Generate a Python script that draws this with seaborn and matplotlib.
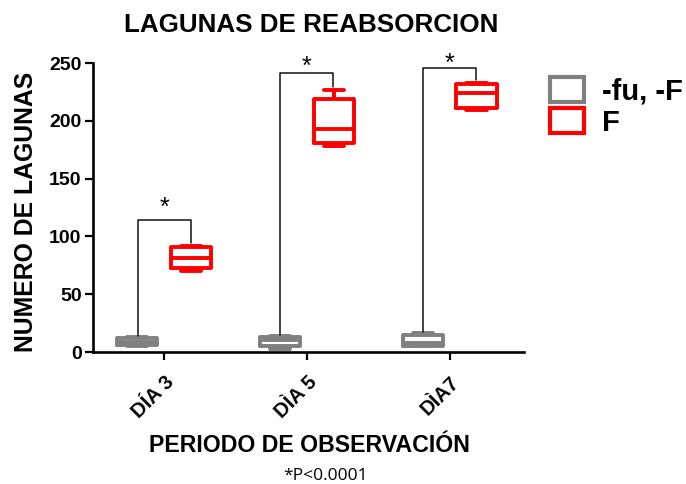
import matplotlib
matplotlib.use("Agg")
import matplotlib.pyplot as plt
from matplotlib.patches import Patch
import seaborn as sns
import pandas as pd

# Observation days (x categories) and treatment groups (hue)
dias = ["DÍA 3", "DÌA 5", "DÌA7"]
grupos = ["-fu, -F", "F"]

# Number of resorption lacunae per day, one list per group
control_dia3 = [5.5, 6.0, 9.0, 12.5, 13.0]
control_dia5 = [2.5, 5.0, 10.0, 13.3, 14.0]
control_dia7 = [5.0, 5.6, 8.2, 14.8, 16.5]
f_dia3 = [70.5, 72.5, 81.5, 91.0, 91.5]
f_dia5 = [178.0, 181.0, 192.5, 218.5, 226.5]
f_dia7 = [209.5, 211.0, 224.0, 231.5, 232.5]

# Heights of the significance brackets and of their asterisks
bracket_top = [114, 241, 246]
star_y = [131, 253.5, 256]
y_ticks = [0, 50, 100, 150, 200, 250]

gris = "#808080"
rojo = "#ff0000"

filas = []
for dia, ctrl, trat in zip(dias, [control_dia3, control_dia5, control_dia7],
                           [f_dia3, f_dia5, f_dia7]):
    filas += [(dia, grupos[0], v) for v in ctrl]
    filas += [(dia, grupos[1], v) for v in trat]
df = pd.DataFrame(filas, columns=["dia", "grupo", "lagunas"])

sns.set_style("ticks")
plt.rcParams["font.family"] = ["Liberation Sans", "DejaVu Sans"]
plt.rcParams.update({"text.color": "black", "axes.labelcolor": "black",
                     "xtick.color": "black", "ytick.color": "black"})

fig = plt.figure(figsize=(6.86, 4.84), dpi=100)
ax = fig.add_axes([0.1351, 0.2727, 0.6287, 0.5971])

sns.boxplot(data=df, x="dia", y="lagunas", hue="grupo", order=dias,
            hue_order=grupos, palette={grupos[0]: gris, grupos[1]: rojo},
            fill=False, width=0.75, gap=0.25, linewidth=2.8, whis=(0, 100),
            legend=False, ax=ax)

ax.set_xlim(-0.5, 2.52)
ax.set_ylim(0, 250)
ax.set_yticks(y_ticks)
ax.set_xlabel("")
ax.set_ylabel("")
sns.despine(ax=ax)
for s in ("left", "bottom"):
    ax.spines[s].set_linewidth(1.9)
    ax.spines[s].set_color("black")
ax.tick_params(axis="both", width=1.6, length=6, color="black", pad=2)
ax.tick_params(axis="x", pad=9)
for lab in ax.get_yticklabels():
    lab.set_fontsize(14)
    lab.set_fontweight("bold")
ax.set_xticks(range(len(dias)))
ax.set_xticklabels(dias, rotation=45, ha="right", rotation_mode="anchor",
                   fontsize=14.5, fontweight="bold")

# Significance brackets between the two groups of each day
off = 0.185
controles = [control_dia3, control_dia5, control_dia7]
tratados = [f_dia3, f_dia5, f_dia7]
for i, (ctrl, trat, top, sy) in enumerate(zip(controles, tratados,
                                               bracket_top, star_y)):
    ax.plot([i - off, i - off, i + off, i + off],
            [max(ctrl) + 1, top, top, max(trat) + 3],
            color="#111111", lw=1.1, clip_on=False)
    ax.text(i, sy - 12.5, "*", ha="center", va="baseline", fontsize=18,
            color="black", clip_on=False)

fig.text(0.453, 1 - 32 / 484, "LAGUNAS DE REABSORCION", ha="center",
         va="baseline", fontsize=18.7, fontweight="bold")
fig.text(26 / 686, 1 - 212 / 484, "NUMERO DE LAGUNAS", rotation=90,
         ha="center", va="center", fontsize=17.8, fontweight="bold")
fig.text(0.451, (484 - 452) / 484, "PERIODO DE OBSERVACIÓN", ha="center",
         va="baseline", fontsize=16.7, fontweight="bold")
fig.text(0.474, (484 - 480) / 484, "*P<0.0001", ha="center", va="baseline",
         fontsize=12.5, family=["Open Sans", "DejaVu Sans"])

handles = [Patch(facecolor="none", edgecolor=gris, linewidth=3),
           Patch(facecolor="none", edgecolor=rojo, linewidth=3)]
fig.legend(handles, grupos, loc="upper left",
           bbox_to_anchor=(550 / 686, 1 - 77 / 484), frameon=False,
           borderpad=0, borderaxespad=0, handlelength=1.17,
           handleheight=0.93, handletextpad=0.6, labelspacing=0.1,
           prop={"size": 21, "weight": "bold"})

fig.savefig("out.png", dpi=100)
